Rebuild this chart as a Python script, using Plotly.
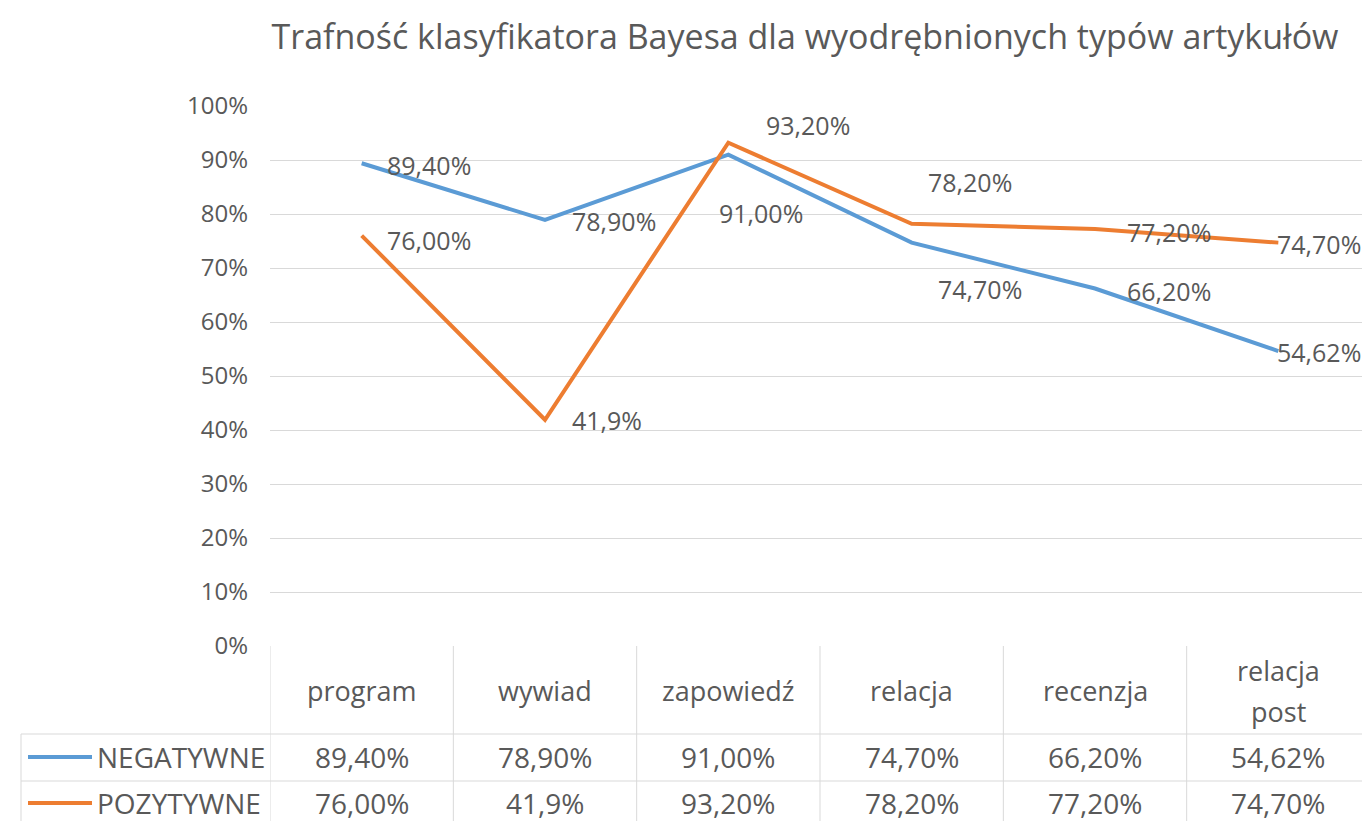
import plotly.graph_objects as go

# ---- data ----
categories = ["program", "wywiad", "zapowiedź", "relacja", "recenzja", "relacja\npost"]
series_names = ["NEGATYWNE", "POZYTYWNE"]
negatywne = [0.894, 0.789, 0.910, 0.747, 0.662, 0.5462]
pozytywne = [0.760, 0.419, 0.932, 0.782, 0.772, 0.747]
negatywne_labels = ["89,40%", "78,90%", "91,00%", "74,70%", "66,20%", "54,62%"]
pozytywne_labels = ["76,00%", "41,9%", "93,20%", "78,20%", "77,20%", "74,70%"]
y_tick_vals = [0, 0.1, 0.2, 0.3, 0.4, 0.5, 0.6, 0.7, 0.8, 0.9, 1.0]
y_tick_text = ["0%", "10%", "20%", "30%", "40%", "50%", "60%", "70%", "80%", "90%", "100%"]
title_text = "Trafność klasyfikatora Bayesa dla wyodrębnionych typów artykułów"

# ---- style ----
O = 8  # page body margin
W, H = 1370 - O, 821 - O
L, R, T, B = 270 - O, 0, 106 - O, 175
PH = H - T - B  # plot height in px
PW = W - L - R
FONT = "Open Sans"
TXT = "#595959"
GRID = "#D9D9D9"
colors = ["#5B9BD5", "#ED7D31"]
# label offsets (px) for data labels, per point
neg_off = [(23, -2), (25, -1), (-11, -58), (24, -46), (30, -2), (-3, -1)]
poz_off = [(23, -4), (25, 0), (36, 18), (14, 42), (30, -3), (-3, -1)]


def py(pix):  # reference page pixel -> paper y
    return (H - B - (pix - O)) / PH


def px(pix):  # reference page pixel -> paper x
    return (pix - O - L) / PW


xs = list(range(len(categories)))
fig = go.Figure()
for name, vals, col in [(series_names[0], negatywne, colors[0]), (series_names[1], pozytywne, colors[1])]:
    fig.add_trace(go.Scatter(x=xs, y=vals, mode="lines", name=name,
                             line=dict(color=col, width=4), showlegend=False))

ann = []
for vals, labs, offs in [(negatywne, negatywne_labels, neg_off), (pozytywne, pozytywne_labels, poz_off)]:
    for i, (v, lab) in enumerate(zip(vals, labs)):
        ann.append(dict(x=i, y=v, xref="x", yref="y", text=lab, showarrow=False,
                        xanchor="left", yanchor="middle", xshift=offs[i][0], yshift=offs[i][1],
                        font=dict(family=FONT, size=25, color=TXT)))

# table header (categories)
for i, c in enumerate(categories):
    lines = c.split("\n")
    ys = [690] if len(lines) == 1 else [670, 711]
    for ln, yy in zip(lines, ys):
        ann.append(dict(x=i, y=py(yy), xref="x", yref="paper", text=ln, showarrow=False,
                        xanchor="center", yanchor="middle",
                        font=dict(family=FONT, size=27, color=TXT)))

# table rows
row_y = [757, 803]
for r, labs in enumerate([negatywne_labels, pozytywne_labels]):
    for i, lab in enumerate(labs):
        ann.append(dict(x=i, y=py(row_y[r]), xref="x", yref="paper", text=lab, showarrow=False,
                        xanchor="center", yanchor="middle",
                        font=dict(family=FONT, size=28, color=TXT)))
    ann.append(dict(x=px(95), y=py(row_y[r]), xref="paper", yref="paper", text=series_names[r],
                    showarrow=False, xanchor="left", yanchor="middle",
                    font=dict(family=FONT, size=28, color=TXT)))

shapes = []
# legend keys
for r in range(2):
    shapes.append(dict(type="line", xref="paper", yref="paper", x0=px(28), x1=px(92),
                       y0=py(row_y[r]), y1=py(row_y[r]), line=dict(color=colors[r], width=4)))
# table grid horizontal
for yy in [734, 781]:
    shapes.append(dict(type="line", xref="paper", yref="paper", x0=px(21), x1=1, y0=py(yy), y1=py(yy),
                       line=dict(color=GRID, width=1)))
# table grid vertical
for k in range(len(categories) + 1):
    shapes.append(dict(type="line", xref="x", yref="paper", x0=k - 0.5, x1=k - 0.5,
                       y0=py(646), y1=py(830), line=dict(color=GRID, width=1)))
shapes.append(dict(type="line", xref="paper", yref="paper", x0=px(21), x1=px(21),
                   y0=py(734), y1=py(830), line=dict(color=GRID, width=1)))

fig.update_layout(
    width=W, height=H,
    margin=dict(l=L, r=R, t=T, b=B, pad=0),
    paper_bgcolor="white", plot_bgcolor="white",
    title=dict(text=title_text, x=(805 - O) / W, xanchor="center", y=1 - (37 - O) / H, yanchor="middle",
               font=dict(family=FONT, size=34, color=TXT)),
    xaxis=dict(range=[-0.5, len(categories) - 0.5], showticklabels=False, showgrid=False,
               zeroline=False, showline=False, ticks=""),
    yaxis=dict(range=[0, 1], tickvals=y_tick_vals, ticktext=y_tick_text, showgrid=True,
               gridcolor=GRID, gridwidth=1, zeroline=False, showline=False, ticks="",
               ticklabelstandoff=21, tickfont=dict(family=FONT, size=24, color=TXT)),
    annotations=ann, shapes=shapes,
)
fig.write_html("out.html")
